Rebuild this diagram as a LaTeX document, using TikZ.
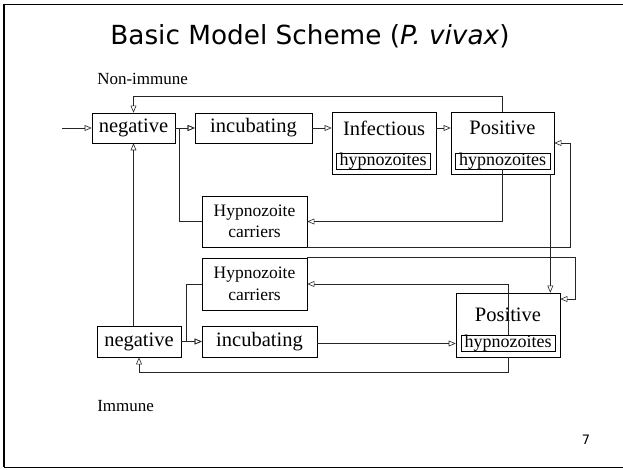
\documentclass[tikz,border=0pt]{standalone}
\usepackage{fontspec}
\setmainfont{Liberation Serif}
\setsansfont{DejaVu Sans}
\usepackage{tikz}
\usetikzlibrary{arrows}

\begin{document}
\begin{tikzpicture}[
  x=1pt, y=-1pt,
  line width=0.6pt,
  >=open triangle 45,
  arr/.style={->, draw=black!85},
  cbox/.style={draw, inner sep=0pt, font=\fontsize{20.5}{22}\selectfont},
  hbox/.style={draw, inner sep=0pt, font=\fontsize{18}{18}\selectfont},
  cname/.style={inner sep=0pt, font=\fontsize{20.5}{22}\selectfont},
  carr/.style={draw, inner sep=0pt, align=center, font=\fontsize{17.5}{21.5}\selectfont},
  grp/.style={anchor=west, inner sep=0pt, font=\fontsize{17}{20}\selectfont},
]
\useasboundingbox (0,0) rectangle (623,470);
\draw [line width=1.6pt] (4,4) -- (4,467);
\draw (4,4) -- (623,4);
\draw (4,467) -- (623,467);

\node (title) at (310,36) {\sffamily\fontsize{26.3}{30}\selectfont Basic Model Scheme (\textit{P. vivax})};
\node [grp] (nonimm) at (97,79) {Non-immune};
\node [grp] (imm) at (97,406) {Immune};
\node (page) at (586,440) {\sffamily\fontsize{13}{15}\selectfont 7};

% non-immune
\node [cbox, minimum width=83, minimum height=30] (negT) at (133.5,128) {negative};
\node [cbox, minimum width=117, minimum height=30] (incT) at (253.5,128) {incubating};
\node [cbox, minimum width=104, minimum height=62] (infT) at (384,143) {};
\node [cname] (infTl) at (384,128) {Infectious};
\node [hbox, minimum width=94, minimum height=16] (infTH) at (383,161) {hypnozoites};
\node [cbox, minimum width=103, minimum height=62] (posT) at (502.5,143) {};
\node [cname] (posTl) at (502.5,128) {Positive};
\node [hbox, minimum width=95, minimum height=16] (posTH) at (502.5,161) {hypnozoites};
\node [carr, minimum width=105, minimum height=51] (hcT) at (254.5,221.5) {Hypnozoite\\carriers};

% immune
\node [carr, minimum width=105, minimum height=52] (hcB) at (254.5,284) {Hypnozoite\\carriers};
\node [cbox, minimum width=84, minimum height=31] (negB) at (139,341.5) {negative};
\node [cbox, minimum width=115, minimum height=31] (incB) at (259.5,341.5) {incubating};
\node [cbox, minimum width=104, minimum height=64] (posB) at (508,325) {};
\node [cname] (posBl) at (508,315) {Positive};
\node [hbox, minimum width=94, minimum height=15] (posBH) at (508,343.5) {hypnozoites};

\coordinate (entry) at (62,128);
\coordinate (jT) at (179,128);
\coordinate (jB) at (186,341.5);

\draw [arr] (entry) -- (negT);
\draw [arr] (negT) -- (incT);
\draw [arr] (incT.east) -- (incT.east -| infT.west);
\draw [arr] (infT.east |- negT.east) -- (posT.west |- negT.east);
\draw [arr] (posT.north) -- ++(0,-15) -| (negT.north);
\draw [arr] (hcT.west) -| (jT) -- (incT.west);
\draw [arr] (posTH.south) |- (hcT.east);
\draw [arr] (hcT.south east) -- ++(263,0) |- (posT.east);
\draw [arr] (posTH.east |- posT.south) -- (posTH.east |- posB.north);

\draw [arr] (hcB.north east) -- ++(268,0) |- ([yshift=26pt]posB.east);
\draw [arr] (posBH.north) |- (hcB.east);
\draw [arr] (hcB.west) -| (jB) -- (incB.west);
\draw [arr] (negB) -- (incB);
\draw [arr] (incB.east |- posBH) -- (posB.west |- posBH);
\draw [arr] (posB.south) -- ++(0,15) -| (negB.south);
\draw [arr] (negT.south |- negB.north) -- (negT.south);

\end{tikzpicture}
\end{document}
